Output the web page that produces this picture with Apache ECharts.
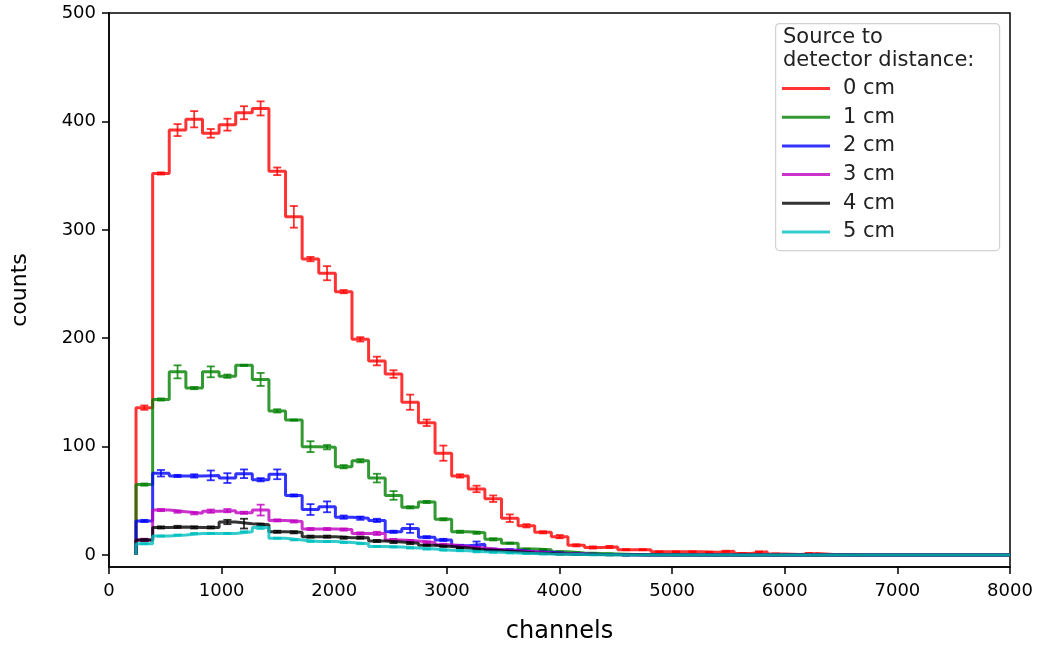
<!DOCTYPE html>
<html>
<head>
<meta charset="utf-8">
<script src="https://cdn.jsdelivr.net/npm/echarts@6/dist/echarts.min.js"></script>
<style>
html,body{margin:0;padding:0;background:#fff;}
#chart{width:1043px;height:650px;}
</style>
</head>
<body>
<div id="chart"></div>
<script>
// Histogram bin edges (channels)
const EDGES = [240, 387.5, 535, 682.5, 830, 977.5, 1125, 1272.5, 1420, 1567.5,
  1715, 1862.5, 2010, 2157.5, 2305, 2452.5, 2600, 2747.5, 2895, 3042.5,
  3190, 3337.5, 3485, 3632.5, 3780, 3927.5, 4075, 4222.5, 4370, 4517.5,
  4665, 4812.5, 4960, 5107.5, 5255, 5402.5, 5550, 5697.5, 5845, 5992.5,
  6140, 6287.5, 6435, 6582.5, 6730, 6877.5, 7025, 7172.5, 7320, 7467.5,
  7615, 7762.5, 7910, 8000];

const NAMES = ['0 cm', '1 cm', '2 cm', '3 cm', '4 cm', '5 cm'];
const COLORS = ['rgba(255,0,0,0.8)', 'rgba(0,128,0,0.8)', 'rgba(0,0,255,0.8)',
  'rgba(191,0,191,0.8)', 'rgba(0,0,0,0.8)', 'rgba(0,191,191,0.8)'];

// counts per bin
const counts0cm = [136, 352, 392, 402, 389, 397, 408, 412, 354, 312,
  273, 260, 243, 199, 179, 167, 141, 122, 94, 73,
  61, 52, 34, 27, 21, 17, 9, 7, 7.5, 5,
  5, 3, 3, 3, 2.5, 3.5, 1.5, 3, 1, 0.5,
  1.5, 0.5, 0.5, 0, 0, 0, 0, 0, 0, 0, 0, 0, 0];
const err0cm = [2, 1, 5.5, 7.5, 4, 5.5, 6, 6.5, 3.5, 10,
  2, 6.5, 1.5, 2, 4, 3.5, 7, 3, 7, 1.5,
  3, 3, 3.5, 1.5, 1, 1.5, 1, 1, 1, 0.5,
  0.5, 0.5, 0.5, 0.5, 0.5, 0.5, 0.5, 0.5, 0.5, 0.5,
  0.5, 0.5, 0.5, 0, 0, 0, 0, 0, 0, 0, 0, 0, 0];

const counts1cm = [65, 143.5, 169, 154, 169, 165, 175, 162, 133, 124.5,
  100, 99.5, 81.5, 87, 71, 55, 44, 49, 33, 21.5,
  20.5, 14.5, 11, 5.5, 5, 3, 2, 1.5, 1, 0.5,
  0.5, 0.5, 0.3, 0, 0, 0, 0, 0, 0, 0,
  0, 0, 0, 0, 0, 0, 0, 0, 0, 0, 0, 0, 0];
const err1cm = [1, 1, 6, 1, 5, 1.5, 0.5, 6, 1.5, 0.5,
  5, 2, 1.5, 1.5, 4, 4, 1, 1, 1, 1,
  1, 1, 0.5, 0.5, 0.5, 0.5, 0.5, 0.5, 0.5, 0.5,
  0.5, 0.5, 0.5, 0, 0, 0, 0, 0, 0, 0,
  0, 0, 0, 0, 0, 0, 0, 0, 0, 0, 0, 0, 0];

const counts2cm = [31.5, 75.5, 73, 73, 73.5, 71, 75, 69.5, 74.5, 55,
  42, 44.5, 35, 34, 32, 21.5, 24.5, 16.5, 14, 8.5,
  10, 5, 4.5, 3, 2.5, 1.5, 1, 0.5, 0.5, 0.3,
  0, 0, 0, 0, 0, 0, 0, 0, 0, 0,
  0, 0, 0, 0, 0, 0, 0, 0, 0, 0, 0, 0, 0];
const err2cm = [1, 3, 1, 1.5, 4.5, 4.5, 4, 1.5, 4.5, 1,
  5, 5, 1.5, 1.5, 1.5, 1, 4, 1, 1, 1,
  2.5, 1, 1, 0.5, 0.5, 0.5, 0.5, 0.5, 0.5, 0.5,
  0, 0, 0, 0, 0, 0, 0, 0, 0, 0,
  0, 0, 0, 0, 0, 0, 0, 0, 0, 0, 0, 0, 0];

const counts3cm = [14, 41.5, 40, 38.5, 40.5, 41, 39, 41.5, 32, 31,
  24, 24, 23.5, 20, 20, 14, 13, 11.5, 9.5, 8,
  6.5, 5, 4, 3, 2, 1.5, 1, 0.5, 0.5, 0.3,
  0, 0, 0, 0, 0, 0, 0, 0, 0, 0,
  0, 0, 0, 0, 0, 0, 0, 0, 0, 0, 0, 0, 0];
const err3cm = [1, 1, 1, 1, 1.5, 1.5, 1, 5, 1, 1,
  1, 1, 1, 1, 1.5, 1, 1, 1, 1, 0.5,
  0.5, 0.5, 0.5, 0.5, 0.5, 0.5, 0.5, 0.5, 0.5, 0.5,
  0, 0, 0, 0, 0, 0, 0, 0, 0, 0,
  0, 0, 0, 0, 0, 0, 0, 0, 0, 0, 0, 0, 0];

const counts4cm = [14, 25.5, 26, 25.5, 25.5, 30.5, 29, 28, 21.5, 21,
  17, 17, 16, 16, 13, 12, 11, 9, 8, 6.5,
  5, 4, 3, 2, 1.5, 1, 0.5, 0.5, 0.3, 0.2,
  0, 0, 0, 0, 0, 0, 0, 0, 0, 0,
  0, 0, 0, 0, 0, 0, 0, 0, 0, 0, 0, 0, 0];
const err4cm = [1, 1, 1, 1, 1, 2, 4.5, 1, 1, 1,
  1, 1, 1, 1, 1, 1, 1, 0.5, 0.5, 0.5,
  0.5, 0.5, 0.5, 0.5, 0.5, 0.5, 0.5, 0.5, 0.5, 0.5,
  0, 0, 0, 0, 0, 0, 0, 0, 0, 0,
  0, 0, 0, 0, 0, 0, 0, 0, 0, 0, 0, 0, 0];

const counts5cm = [10.5, 17.5, 18.5, 20, 20, 20, 21.5, 25.5, 15.5, 14,
  12.5, 12.5, 11.5, 10.5, 8, 7.5, 6.5, 5.5, 4.5, 4,
  3, 2.5, 2, 1.5, 1, 0.8, 0.5, 0.3, 0.2, 0.1,
  0, 0, 0, 0, 0, 0, 0, 0, 0, 0,
  0, 0, 0, 0, 0, 0, 0, 0, 0, 0, 0, 0, 0];
const err5cm = [0.5, 0.5, 0.5, 0.5, 0.5, 0.5, 0.5, 1.5, 0.5, 0.5,
  0.5, 0.5, 0.5, 0.5, 0.5, 0.5, 0.5, 0.5, 0.5, 0.5,
  0.5, 0.5, 0.5, 0.5, 0.5, 0.5, 0.5, 0.5, 0.5, 0.5,
  0, 0, 0, 0, 0, 0, 0, 0, 0, 0,
  0, 0, 0, 0, 0, 0, 0, 0, 0, 0, 0, 0, 0];

const X_TICKS = [0, 1000, 2000, 3000, 4000, 5000, 6000, 7000, 8000];
const Y_TICKS = [0, 100, 200, 300, 400, 500];

const COUNTS = [counts0cm, counts1cm, counts2cm, counts3cm, counts4cm, counts5cm];
const ERRS = [err0cm, err1cm, err2cm, err3cm, err4cm, err5cm];

const FONT = 'DejaVu Sans';

function stepData(vals) {
  const d = [[EDGES[0], 0]];
  for (let i = 0; i < vals.length; i++) d.push([EDGES[i], vals[i]]);
  d.push([EDGES[EDGES.length - 1], vals[vals.length - 1]]);
  return d;
}
function errData(vals, errs) {
  const d = [];
  for (let i = 0; i < vals.length; i++) {
    if (vals[i] > 0) d.push([(EDGES[i] + EDGES[i + 1]) / 2, vals[i], errs[i]]);
  }
  return d;
}
function makeErrRender(color) {
  return function (params, api) {
    const x = api.value(0), y = api.value(1), e = api.value(2);
    const top = api.coord([x, y + e]);
    const bot = api.coord([x, y - e]);
    const cap = 4;
    const st = { stroke: color, lineWidth: 1.8 };
    return {
      type: 'group',
      children: [
        { type: 'line', shape: { x1: top[0], y1: top[1], x2: bot[0], y2: bot[1] }, style: st },
        { type: 'line', shape: { x1: top[0] - cap, y1: top[1], x2: top[0] + cap, y2: top[1] }, style: st },
        { type: 'line', shape: { x1: bot[0] - cap, y1: bot[1], x2: bot[0] + cap, y2: bot[1] }, style: st }
      ]
    };
  };
}

const series = [];
for (let k = 0; k < NAMES.length; k++) {
  series.push({
    name: NAMES[k],
    type: 'line',
    step: 'end',
    showSymbol: false,
    symbol: 'none',
    animation: false,
    color: COLORS[k],
    lineStyle: { color: COLORS[k], width: 3 },
    data: stepData(COUNTS[k])
  });
  series.push({
    name: NAMES[k] + ' err',
    type: 'custom',
    animation: false,
    renderItem: makeErrRender(COLORS[k]),
    data: errData(COUNTS[k], ERRS[k])
  });
}

const chart = echarts.init(document.getElementById('chart'), null, { renderer: 'canvas' });
chart.setOption({
  animation: false,
  backgroundColor: '#fff',
  textStyle: { fontFamily: FONT },
  grid: {
    left: 109, right: 33, top: 13, bottom: 83,
    show: true, borderColor: '#000', borderWidth: 1.5, backgroundColor: 'transparent'
  },
  xAxis: {
    type: 'value',
    min: 0, max: 8000, interval: 1000,
    name: 'channels',
    nameLocation: 'middle',
    nameGap: 53,
    nameTextStyle: { fontFamily: FONT, fontSize: 24, color: '#000' },
    axisLine: { onZero: false, lineStyle: { color: '#000', width: 1.5 } },
    axisTick: { show: true, length: 7, lineStyle: { color: '#000', width: 1.5 }, customValues: X_TICKS },
    axisLabel: { fontFamily: FONT, fontSize: 18, color: '#000', margin: 15, customValues: X_TICKS,
      formatter: function (v) { return String(v); } },
    splitLine: { show: false }
  },
  yAxis: {
    type: 'value',
    min: -11, max: 500,
    name: 'counts',
    nameLocation: 'middle',
    nameGap: 78,
    nameRotate: 90,
    nameTextStyle: { fontFamily: FONT, fontSize: 22, color: '#000' },
    axisLine: { onZero: false, lineStyle: { color: '#000', width: 1.5 } },
    axisTick: { show: true, length: 7, lineStyle: { color: '#000', width: 1.5 }, customValues: Y_TICKS },
    axisLabel: { fontFamily: FONT, fontSize: 18, color: '#000', margin: 13, customValues: Y_TICKS,
      formatter: function (v) { return String(v); } },
    splitLine: { show: false }
  },
  legend: {
    data: NAMES,
    orient: 'vertical',
    left: 782,
    top: 78,
    padding: 0,
    itemWidth: 48,
    itemHeight: 3,
    itemGap: 7.7,
    icon: 'rect',
    selectedMode: false,
    textStyle: { fontFamily: FONT, fontSize: 21, lineHeight: 21, color: '#222', padding: [0, 0, 0, 8] },
    z: 10
  },
  graphic: [
    {
      type: 'rect', left: 775, top: 23, z: 5,
      shape: { width: 224, height: 227, r: 4 },
      style: { fill: 'rgba(255,255,255,0.8)', stroke: 'rgba(204,204,204,0.9)', lineWidth: 1.2 }
    },
    {
      type: 'text', left: 783, top: 26, z: 11,
      style: { text: 'Source to\ndetector distance:', font: '21px "DejaVu Sans"', lineHeight: 23, fill: '#222' }
    }
  ],
  series: series
});
</script>
</body>
</html>
